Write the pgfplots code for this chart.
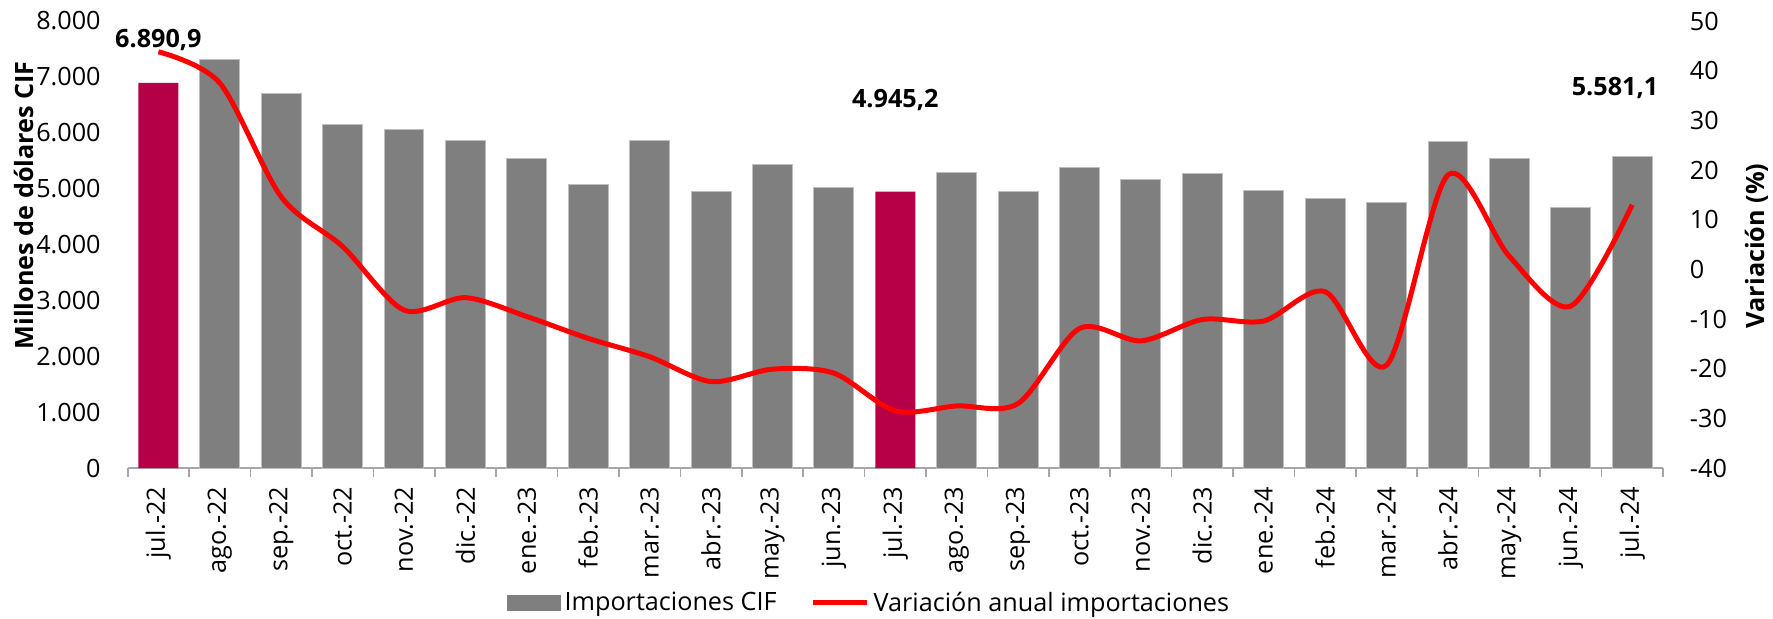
\documentclass[border=0pt]{standalone}
\usepackage{fontspec}
\setmainfont{Open Sans}
\usepackage{pgfplots}
\usepackage{pgfplotstable}
\pgfplotsset{compat=1.18}

\definecolor{barcol}{HTML}{7F7F7F}
\definecolor{baredge}{HTML}{BFBFBF}
\definecolor{hilite}{HTML}{B50048}
\definecolor{axcol}{HTML}{A6A6A6}

% importaciones CIF (millones de dolares), meses 0 = jul.-22 ... 24 = jul.-24
\pgfplotstableread{
x imp
1 7310
2 6700
3 6140
4 6060
5 5860
6 5535
7 5065
8 5865
9 4950
10 5425
11 5020
13 5290
14 4950
15 5385
16 5170
17 5265
18 4965
19 4820
20 4760
21 5850
22 5540
23 4665
24 5581.1
}\impgris

\pgfplotstableread{
x imp
0 6890.9
12 4945.2
}\impdestacado

% variacion anual (%)
\pgfplotstableread{
x var
0 43.8
1 37.5
2 14.6
3 4.6
4 -8.2
5 -5.7
6 -9.5
7 -13.9
8 -17.6
9 -22.6
10 -20.1
11 -20.9
12 -28.5
13 -27.5
14 -27.0
15 -11.9
16 -14.4
17 -10.1
18 -10.4
19 -4.5
20 -19.3
21 19.0
22 2.6
23 -7.4
24 13.0
}\variacion

\newcommand{\fs}{\fontsize{12.6pt}{15pt}\selectfont}

\pgfplotsset{
  base/.style={
    width=767.6pt, height=223.5pt, scale only axis,
    at={(63.85pt,75pt)}, anchor=south west,
    xmin=-0.5, xmax=24.5,
    /pgf/number format/assume math mode=true,
    /pgf/number format/use comma,
    /pgf/number format/1000 sep={.},
    tick label style={font=\fs},
    major tick length=0pt,
    ytick style={draw=none},
    y axis line style={draw=none},
    scaled y ticks=false,
  },
}

\begin{document}
\begin{tikzpicture}[font=\fs]
\useasboundingbox (0,0) rectangle (886.5pt,309pt);

\begin{axis}[
  base,
  ymin=0, ymax=8000,
  ytick={0,1000,...,8000},
  axis x line*=bottom,
  axis y line*=left,
  x axis line style={draw=axcol, line width=0.8pt, -},
  xtick={0,...,24},
  xticklabels={jul.-22,ago.-22,sep.-22,oct.-22,nov.-22,dic.-22,ene.-23,feb.-23,mar.-23,abr.-23,may.-23,jun.-23,jul.-23,ago.-23,sep.-23,oct.-23,nov.-23,dic.-23,ene.-24,feb.-24,mar.-24,abr.-24,may.-24,jun.-24,jul.-24},
  xtick style={draw=none},
  minor xtick={-0.5,0.5,...,24.5},
  minor tick length=4.5pt,
  minor x tick style={draw=axcol, line width=0.8pt},
  tick align=outside,
  x tick label style={rotate=90, anchor=east},
  xticklabel shift=5.8pt,
  yticklabel shift=10pt,
  ylabel={Millones de dólares CIF},
  every axis y label/.style={at={(axis description cs:-0.0678,0.588)}, rotate=90, anchor=center, font=\fs\bfseries},
  clip=false,
]
\addplot[ybar, bar width=0.65, bar shift=0pt, fill=barcol, draw=baredge, line width=0.5pt] table[x=x, y=imp] {\impgris};
\addplot[ybar, bar width=0.65, bar shift=0pt, fill=hilite, draw=none] table[x=x, y=imp] {\impdestacado};

\node[font=\fs\bfseries] at (axis cs:0,7659) {6.890,9};
\node[font=\fs\bfseries] at (axis cs:12,6586) {4.945,2};
\node[font=\fs\bfseries] at (axis cs:23.72,6800) {5.581,1};
\end{axis}

\begin{axis}[
  base,
  ymin=-40, ymax=50,
  ytick={-40,-30,...,50},
  axis y line*=right,
  axis x line=none,
  yticklabel shift=10pt,
  ylabel={Variación (\%)},
  every axis y label/.style={at={(axis description cs:1.0612,0.497)}, rotate=90, anchor=center, font=\fs\bfseries},
  legend columns=2,
  legend style={draw=none, fill=none, at={(0.4835,-0.302)}, anchor=center, font=\fs,
    /tikz/every even column/.append style={column sep=15pt}},
  legend cell align=left,
]
\addlegendimage{legend image code/.code={\fill[barcol] (0pt,-3.75pt) rectangle (26.5pt,3.75pt);}}
\addlegendentry{Importaciones CIF}
\addplot[red, line width=2.5pt, smooth, tension=0.5, mark=none,
  legend image code/.code={\draw[red, line width=2.5pt] (0pt,0pt) -- (27pt,0pt);}] table[x=x, y=var] {\variacion};
\addlegendentry{Variación anual importaciones}
\end{axis}
\end{tikzpicture}
\end{document}
